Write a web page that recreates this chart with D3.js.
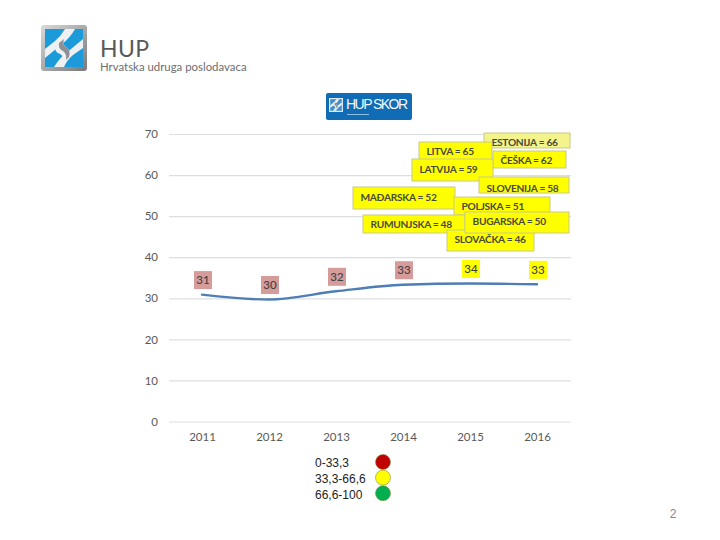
<!DOCTYPE html>
<html>
<head>
<meta charset="utf-8">
<script src="https://cdn.jsdelivr.net/npm/d3@7"></script>
<style>
  html, body { margin: 0; padding: 0; background: #fff; }
  svg { display: block; }
</style>
</head>
<body>
<div id="chart"></div>
<script>
// data
const years = ['2011', '2012', '2013', '2014', '2015', '2016'];
const hupScore = [30.9, 29.7, 31.7, 33.3, 33.6, 33.4];
const yTicks = [0, 10, 20, 30, 40, 50, 60, 70];
const countries = ['ESTONIJA', 'LITVA', 'ČEŠKA', 'LATVIJA', 'SLOVENIJA', 'MAĐARSKA', 'POLJSKA', 'RUMUNJSKA', 'SLOVAČKA', 'BUGARSKA'];
const countryScores = [66, 65, 62, 59, 58, 52, 51, 48, 46, 50];
const legendLabels = ['0-33,3', '33,3-66,6', '66,6-100'];

// layout of the pasted country boxes, same order as countries: x0, x1, y0, y1, baseline
const boxes = [
    [484, 570, 133, 148, 146], [419, 492, 142, 160, 155], [493, 566, 151, 168, 164], [412, 493, 159, 181, 173],
    [479, 569, 177, 193, 192], [353, 455, 187, 209, 201], [454, 550, 197, 215, 210], [363, 465, 215, 233, 228],
    [447, 534, 230, 251, 243], [465, 569, 212, 233, 225]
];
const legendColors = ['#c00000', '#ffff00', '#00b050'];

const labelFont = 'Lato, "Open Sans", sans-serif';
const width = 720, height = 540;

const svg = d3.select('#chart').append('svg')
    .attr('width', width)
    .attr('height', height);

const defs = svg.append('defs');
const frame = defs.append('linearGradient').attr('id', 'frame')
    .attr('x1', 0).attr('y1', 0).attr('x2', 1).attr('y2', 1);
frame.append('stop').attr('offset', 0).attr('stop-color', '#d8dadc');
frame.append('stop').attr('offset', 1).attr('stop-color', '#77797b');

// HUP logo: chain on a blue square
function drawMark(g, size, withFrame) {
    const k = size / 46;
    g.append('rect').attr('width', size).attr('height', size).attr('rx', withFrame ? 3 : 0)
        .attr('fill', withFrame ? 'url(#frame)' : '#dfe8f0');
    g.append('rect').attr('x', 4 * k).attr('y', 4 * k)
        .attr('width', 38 * k).attr('height', 38 * k)
        .attr('fill', withFrame ? '#1d9ad9' : '#3f8ecb');
    const links = [
        'M24 4 L34 4 Q29 13 21 19 L4 33 L4 24 L14 16 Q20 11 24 4 Z',
        'M13 42 L23 42 Q26 35 32 30 L42 23 L42 14 L30 24 Q19 32 13 42 Z',
        'M14 20 Q13 27 19 29 Q24 31 21 39 L28 34 Q31 26 25 22 Q20 19 24 12 Z',
        'M18 18 Q17 24 22 26 Q26 29 25 35 L28 32 Q30 25 25 22 Q21 19 23 14 Z'
    ];
    g.selectAll('path.link').data(links).enter().append('path')
        .attr('class', 'link')
        .attr('transform', `scale(${k})`)
        .attr('d', d => d)
        .attr('fill', (d, i) => i === 3 ? '#8d9195' : '#eef0f2');
}

drawMark(svg.append('g').attr('transform', 'translate(41,25)'), 46, true);

svg.append('text').attr('x', 100).attr('y', 57)
    .attr('font-family', labelFont)
    .attr('font-size', 23).attr('letter-spacing', 0.4).attr('fill', '#58595b')
    .text('HUP');
svg.append('text').attr('x', 100).attr('y', 71)
    .attr('font-family', labelFont)
    .attr('font-size', 11.4).attr('fill', '#6d6e70')
    .text('Hrvatska udruga poslodavaca');

// HUP SKOR badge
const badge = svg.append('g').attr('transform', 'translate(326,93)');
badge.append('rect').attr('width', 86).attr('height', 27).attr('rx', 2).attr('fill', '#0f6cb5');
drawMark(badge.append('g').attr('transform', 'translate(3,5)'), 14, false);
badge.append('text').attr('x', 20).attr('y', 16)
    .attr('font-family', '"Liberation Sans Narrow", "Liberation Sans", sans-serif')
    .attr('font-size', 14).attr('fill', '#f4f8fc')
    .attr('textLength', 62).attr('lengthAdjust', 'spacing')
    .text('HUP SKOR');
badge.append('rect').attr('x', 21).attr('y', 21).attr('width', 22).attr('height', 1)
    .attr('fill', '#8fbde0');

// scales
const x = d3.scalePoint().domain(years).range([202, 537]);
const y = d3.scaleLinear().domain([0, 70]).range([421.5, 134]);

// axes
const yAxis = svg.append('g').attr('transform', 'translate(169,0)')
    .call(d3.axisLeft(y).tickValues(yTicks).tickSize(-402).tickPadding(11));
yAxis.select('.domain').remove();
yAxis.selectAll('line').attr('stroke', '#dcdfe2').attr('stroke-width', 1.2);
yAxis.selectAll('text').attr('font-family', labelFont).attr('font-size', 11.5).attr('fill', '#595959');

const xAxis = svg.append('g').attr('transform', 'translate(0,421.5)')
    .call(d3.axisBottom(x).tickSize(0).tickPadding(11));
xAxis.select('.domain').remove();
xAxis.selectAll('text').attr('font-family', labelFont).attr('font-size', 11.5).attr('fill', '#595959');

// score line
const line = d3.line()
    .x((d, i) => x(years[i]))
    .y(d => y(d))
    .curve(d3.curveMonotoneX);

svg.append('path')
    .datum(hupScore)
    .attr('d', line)
    .attr('fill', 'none')
    .attr('stroke', '#4f7db5')
    .attr('stroke-width', 2.4)
    .attr('stroke-linecap', 'round');

// yearly value labels, coloured by the score band
const yearLabel = svg.selectAll('.year-label')
    .data(hupScore)
    .enter().append('g')
    .attr('class', 'year-label')
    .attr('transform', (d, i) => `translate(${x(years[i]) + 1},${y(d) - 14.5})`);

yearLabel.append('rect')
    .attr('x', -9).attr('y', -9).attr('width', 18).attr('height', 18)
    .attr('fill', d => d > 33.3 ? '#ffff00' : '#d69b9b');

yearLabel.append('text')
    .attr('text-anchor', 'middle').attr('dy', '0.35em')
    .attr('font-family', labelFont).attr('font-size', 11.5).attr('font-weight', 500)
    .attr('fill', '#404040')
    .text(d => Math.round(d));

// country boxes
const countryBox = svg.selectAll('.country')
    .data(countries)
    .enter().append('g')
    .attr('class', 'country');

countryBox.append('rect')
    .attr('x', (d, i) => boxes[i][0])
    .attr('y', (d, i) => boxes[i][2])
    .attr('width', (d, i) => boxes[i][1] - boxes[i][0])
    .attr('height', (d, i) => boxes[i][3] - boxes[i][2])
    .attr('fill', (d, i) => i === 0 ? '#f4f48c' : '#ffff00')
    .attr('stroke', '#c9c98a')
    .attr('stroke-width', 1);

countryBox.append('text')
    .attr('x', (d, i) => boxes[i][0] + 7.5)
    .attr('y', (d, i) => boxes[i][4])
    .attr('font-family', labelFont).attr('font-size', 10.2).attr('font-weight', 700)
    .attr('letter-spacing', -0.3)
    .attr('fill', '#4a4a3a')
    .text((d, i) => `${d} = ${countryScores[i]}`);

// score band legend
const legend = svg.selectAll('.band')
    .data(legendLabels)
    .enter().append('g')
    .attr('class', 'band')
    .attr('transform', (d, i) => `translate(0,${462 + i * 15.6})`);

legend.append('text')
    .attr('x', 315).attr('dy', '0.45em')
    .attr('font-family', '"Liberation Sans", Arial, sans-serif')
    .attr('font-size', 12).attr('fill', '#222')
    .text(d => d);

legend.append('circle')
    .attr('cx', 383).attr('r', 7.5)
    .attr('fill', (d, i) => legendColors[i])
    .attr('stroke', '#8a8a40')
    .attr('stroke-width', 0.6);

// slide number
svg.append('text').attr('x', 673).attr('y', 518)
    .attr('text-anchor', 'middle')
    .attr('font-family', '"Liberation Sans", Arial, sans-serif')
    .attr('font-size', 12).attr('fill', '#7a8a99')
    .text('2');
</script>
</body>
</html>
